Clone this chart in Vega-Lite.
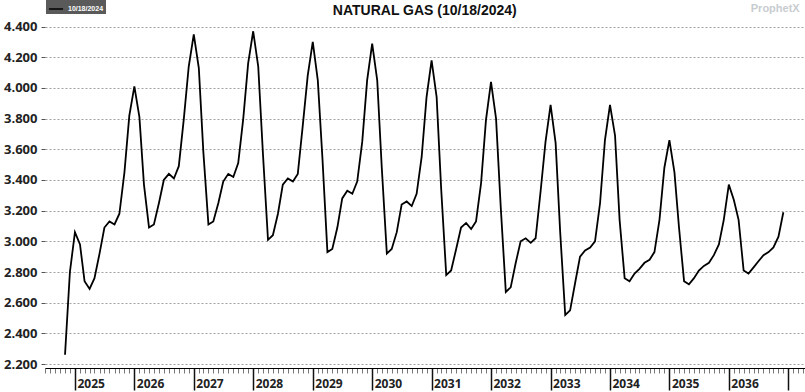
{
  "$schema": "https://vega.github.io/schema/vega-lite/v6.json",
  "width": 760,
  "height": 353,
  "autosize": "none",
  "padding": {"left": 45, "top": 15, "right": 0, "bottom": 24},
  "background": "white",
  "config": {"view": {"stroke": null}, "font": "Open Sans"},
  "data": {"values": [
    {"d": "2024-11-01", "v": 2.26}, {"d": "2024-12-01", "v": 2.80},
    {"d": "2025-01-01", "v": 3.06}, {"d": "2025-02-01", "v": 2.98}, {"d": "2025-03-01", "v": 2.74}, {"d": "2025-04-01", "v": 2.69}, {"d": "2025-05-01", "v": 2.76}, {"d": "2025-06-01", "v": 2.92}, {"d": "2025-07-01", "v": 3.09}, {"d": "2025-08-01", "v": 3.13}, {"d": "2025-09-01", "v": 3.11}, {"d": "2025-10-01", "v": 3.18}, {"d": "2025-11-01", "v": 3.45}, {"d": "2025-12-01", "v": 3.82},
    {"d": "2026-01-01", "v": 4.01}, {"d": "2026-02-01", "v": 3.81}, {"d": "2026-03-01", "v": 3.37}, {"d": "2026-04-01", "v": 3.09}, {"d": "2026-05-01", "v": 3.11}, {"d": "2026-06-01", "v": 3.25}, {"d": "2026-07-01", "v": 3.40}, {"d": "2026-08-01", "v": 3.44}, {"d": "2026-09-01", "v": 3.41}, {"d": "2026-10-01", "v": 3.49}, {"d": "2026-11-01", "v": 3.80}, {"d": "2026-12-01", "v": 4.14},
    {"d": "2027-01-01", "v": 4.35}, {"d": "2027-02-01", "v": 4.13}, {"d": "2027-03-01", "v": 3.58}, {"d": "2027-04-01", "v": 3.11}, {"d": "2027-05-01", "v": 3.13}, {"d": "2027-06-01", "v": 3.25}, {"d": "2027-07-01", "v": 3.39}, {"d": "2027-08-01", "v": 3.44}, {"d": "2027-09-01", "v": 3.42}, {"d": "2027-10-01", "v": 3.51}, {"d": "2027-11-01", "v": 3.80}, {"d": "2027-12-01", "v": 4.16},
    {"d": "2028-01-01", "v": 4.37}, {"d": "2028-02-01", "v": 4.14}, {"d": "2028-03-01", "v": 3.57}, {"d": "2028-04-01", "v": 3.01}, {"d": "2028-05-01", "v": 3.04}, {"d": "2028-06-01", "v": 3.18}, {"d": "2028-07-01", "v": 3.37}, {"d": "2028-08-01", "v": 3.41}, {"d": "2028-09-01", "v": 3.39}, {"d": "2028-10-01", "v": 3.44}, {"d": "2028-11-01", "v": 3.76}, {"d": "2028-12-01", "v": 4.08},
    {"d": "2029-01-01", "v": 4.30}, {"d": "2029-02-01", "v": 4.05}, {"d": "2029-03-01", "v": 3.55}, {"d": "2029-04-01", "v": 2.93}, {"d": "2029-05-01", "v": 2.95}, {"d": "2029-06-01", "v": 3.09}, {"d": "2029-07-01", "v": 3.28}, {"d": "2029-08-01", "v": 3.33}, {"d": "2029-09-01", "v": 3.31}, {"d": "2029-10-01", "v": 3.39}, {"d": "2029-11-01", "v": 3.65}, {"d": "2029-12-01", "v": 4.05},
    {"d": "2030-01-01", "v": 4.29}, {"d": "2030-02-01", "v": 4.05}, {"d": "2030-03-01", "v": 3.48}, {"d": "2030-04-01", "v": 2.92}, {"d": "2030-05-01", "v": 2.95}, {"d": "2030-06-01", "v": 3.06}, {"d": "2030-07-01", "v": 3.24}, {"d": "2030-08-01", "v": 3.26}, {"d": "2030-09-01", "v": 3.23}, {"d": "2030-10-01", "v": 3.31}, {"d": "2030-11-01", "v": 3.55}, {"d": "2030-12-01", "v": 3.94},
    {"d": "2031-01-01", "v": 4.18}, {"d": "2031-02-01", "v": 3.94}, {"d": "2031-03-01", "v": 3.34}, {"d": "2031-04-01", "v": 2.78}, {"d": "2031-05-01", "v": 2.81}, {"d": "2031-06-01", "v": 2.95}, {"d": "2031-07-01", "v": 3.09}, {"d": "2031-08-01", "v": 3.12}, {"d": "2031-09-01", "v": 3.08}, {"d": "2031-10-01", "v": 3.13}, {"d": "2031-11-01", "v": 3.38}, {"d": "2031-12-01", "v": 3.79},
    {"d": "2032-01-01", "v": 4.04}, {"d": "2032-02-01", "v": 3.80}, {"d": "2032-03-01", "v": 3.22}, {"d": "2032-04-01", "v": 2.67}, {"d": "2032-05-01", "v": 2.70}, {"d": "2032-06-01", "v": 2.86}, {"d": "2032-07-01", "v": 3.00}, {"d": "2032-08-01", "v": 3.02}, {"d": "2032-09-01", "v": 2.99}, {"d": "2032-10-01", "v": 3.02}, {"d": "2032-11-01", "v": 3.33}, {"d": "2032-12-01", "v": 3.65},
    {"d": "2033-01-01", "v": 3.89}, {"d": "2033-02-01", "v": 3.64}, {"d": "2033-03-01", "v": 3.06}, {"d": "2033-04-01", "v": 2.52}, {"d": "2033-05-01", "v": 2.55}, {"d": "2033-06-01", "v": 2.73}, {"d": "2033-07-01", "v": 2.90}, {"d": "2033-08-01", "v": 2.94}, {"d": "2033-09-01", "v": 2.96}, {"d": "2033-10-01", "v": 3.00}, {"d": "2033-11-01", "v": 3.25}, {"d": "2033-12-01", "v": 3.66},
    {"d": "2034-01-01", "v": 3.89}, {"d": "2034-02-01", "v": 3.69}, {"d": "2034-03-01", "v": 3.14}, {"d": "2034-04-01", "v": 2.76}, {"d": "2034-05-01", "v": 2.74}, {"d": "2034-06-01", "v": 2.79}, {"d": "2034-07-01", "v": 2.82}, {"d": "2034-08-01", "v": 2.86}, {"d": "2034-09-01", "v": 2.88}, {"d": "2034-10-01", "v": 2.93}, {"d": "2034-11-01", "v": 3.14}, {"d": "2034-12-01", "v": 3.48},
    {"d": "2035-01-01", "v": 3.66}, {"d": "2035-02-01", "v": 3.45}, {"d": "2035-03-01", "v": 3.09}, {"d": "2035-04-01", "v": 2.74}, {"d": "2035-05-01", "v": 2.72}, {"d": "2035-06-01", "v": 2.76}, {"d": "2035-07-01", "v": 2.81}, {"d": "2035-08-01", "v": 2.84}, {"d": "2035-09-01", "v": 2.86}, {"d": "2035-10-01", "v": 2.91}, {"d": "2035-11-01", "v": 2.98}, {"d": "2035-12-01", "v": 3.14},
    {"d": "2036-01-01", "v": 3.37}, {"d": "2036-02-01", "v": 3.27}, {"d": "2036-03-01", "v": 3.14}, {"d": "2036-04-01", "v": 2.81}, {"d": "2036-05-01", "v": 2.79}, {"d": "2036-06-01", "v": 2.83}, {"d": "2036-07-01", "v": 2.87}, {"d": "2036-08-01", "v": 2.91}, {"d": "2036-09-01", "v": 2.93}, {"d": "2036-10-01", "v": 2.96}, {"d": "2036-11-01", "v": 3.03}, {"d": "2036-12-01", "v": 3.19}
  ]},
  "encoding": {
    "x": {
      "field": "d", "type": "temporal",
      "scale": {"type": "utc", "domain": [{"year": 2024, "month": 7, "date": 1, "utc": true}, {"year": 2037, "month": 4, "date": 13, "utc": true}], "nice": false},
      "axis": {
        "title": null, "grid": false,
        "tickCount": {"interval": "month", "step": 1},
        "domain": true, "domainColor": "#000", "domainWidth": 1.2,
        "tickColor": {"condition": {"test": "utcmonth(datum.value) === 0", "value": "#111"}, "value": "#555"},
        "tickWidth": {"condition": {"test": "utcmonth(datum.value) === 0", "value": 1.5}, "value": 0.8},
        "tickSize": {"condition": {"test": "utcmonth(datum.value) === 0", "value": 22}, "value": 5},
        "labelExpr": "utcmonth(datum.value) === 0 && utcyear(datum.value) < 2037 ? utcFormat(datum.value, '%Y') : ''",
        "labelAlign": "left", "labelOffset": 2, "labelPadding": -3, "labelBaseline": "alphabetic",
        "labelFont": "Open Sans", "labelFontSize": 12, "labelFontWeight": "bold", "labelColor": "#222",
        "labelOverlap": false, "labelFlush": false, "labelBound": false
      }
    },
    "y": {
      "field": "v", "type": "quantitative",
      "scale": {"domain": [2.174, 4.476], "nice": false, "zero": false},
      "axis": {
        "title": null, "values": [2.2, 2.4, 2.6, 2.8, 3.0, 3.2, 3.4, 3.6, 3.8, 4.0, 4.2, 4.4],
        "format": ".3f", "labelFont": "Open Sans", "labelFontSize": 13, "labelFontWeight": "bold", "labelColor": "#222",
        "labelOverlap": false, "labelFlush": false, "labelBound": false,
        "domain": false, "ticks": true, "tickSize": 4, "tickColor": "#555", "labelPadding": 4,
        "grid": true, "gridColor": "#8a8a8a", "gridDash": [2, 2], "gridWidth": 0.8
      }
    }
  },
  "layer": [
    {
      "mark": {"type": "line", "strokeWidth": 1.8, "strokeJoin": "miter", "clip": true},
      "encoding": {
        "color": {
          "datum": "10/18/2024",
          "scale": {"range": ["#000000"]},
          "legend": {
            "orient": "none", "legendX": 1, "legendY": -16, "title": null,
            "fillColor": "#5a5a5a", "padding": 2, "symbolType": "stroke", "symbolSize": 200, "symbolStrokeWidth": 1.5,
            "labelFontSize": 7, "labelFont": "Liberation Sans", "labelFontWeight": "bold", "labelColor": "white", "labelOffset": 4
          }
        }
      }
    },
    {
      "data": {"values": [{"d": "2036-10-12", "v": 4.515, "t": "ProphetX"}]},
      "mark": {"type": "text", "font": "Liberation Sans", "fontSize": 11, "fontWeight": "bold", "color": "#c8ccd0", "baseline": "middle", "align": "center"},
      "encoding": {"text": {"field": "t"}}
    },
    {
      "data": {"values": [{"d": "2030-11-20", "v": 4.475, "t": "NATURAL GAS (10/18/2024)"}]},
      "mark": {"type": "text", "font": "Liberation Sans", "fontSize": 14, "fontWeight": "bold", "color": "#111", "baseline": "alphabetic", "align": "center"},
      "encoding": {"text": {"field": "t"}}
    }
  ]
}
